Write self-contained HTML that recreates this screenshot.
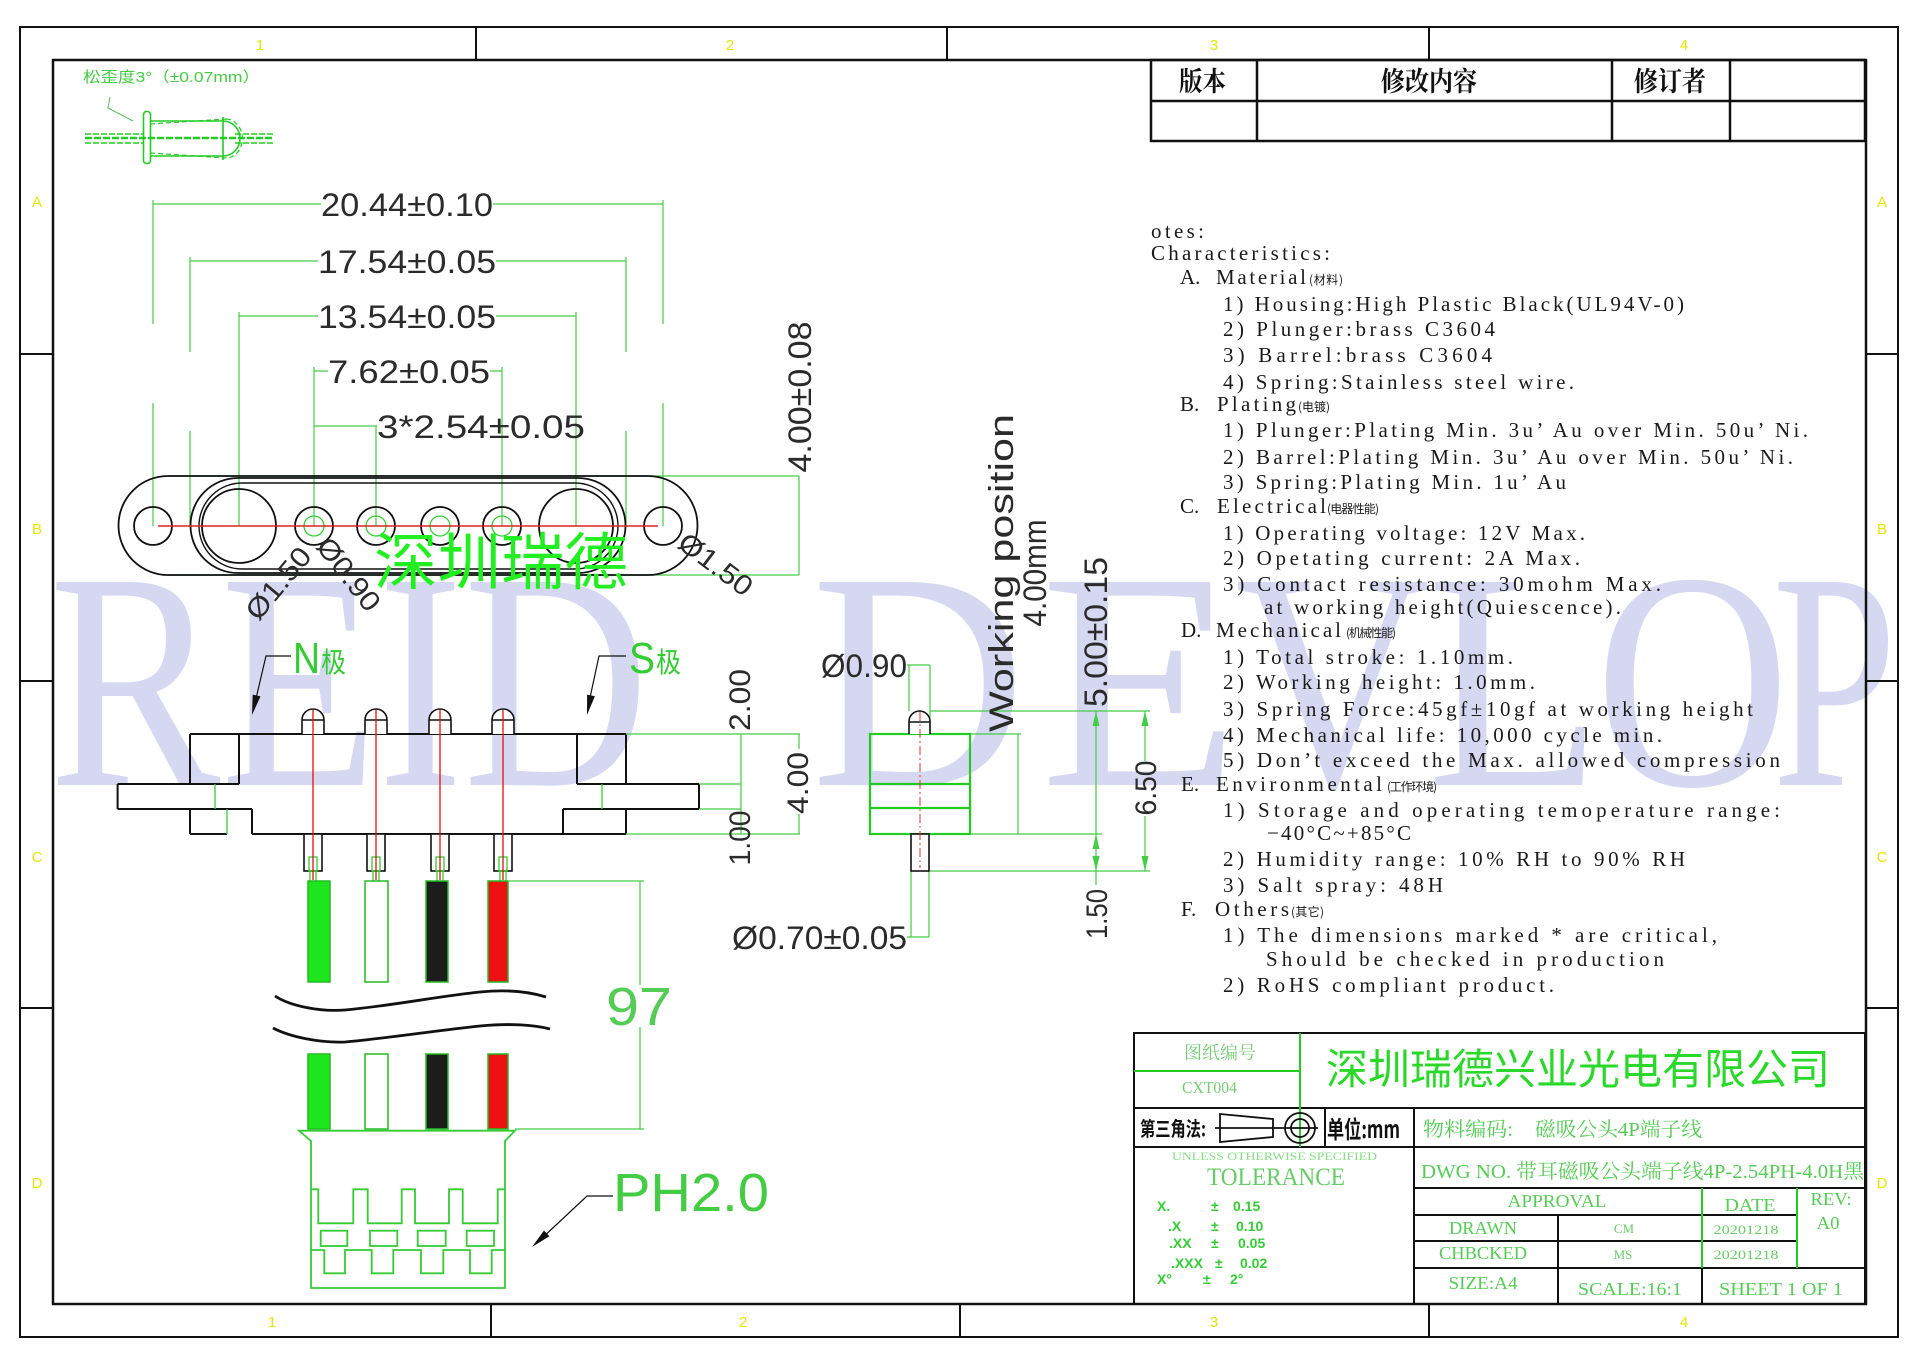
<!DOCTYPE html>
<html><head><meta charset="utf-8"><style>html,body{margin:0;padding:0;background:#fff}svg{display:block}</style></head>
<body>
<svg xmlns="http://www.w3.org/2000/svg" width="1920" height="1357" viewBox="0 0 1920 1357">
<rect width="1920" height="1357" fill="#fff"/>

<!-- watermark -->
<g font-family="Liberation Serif, serif" font-size="310" fill="#d6d8f1">
<text x="49" y="785" textLength="600" lengthAdjust="spacingAndGlyphs">REID</text>
<text x="811" y="785" textLength="215" lengthAdjust="spacingAndGlyphs">D</text>
<text x="1040" y="785" textLength="200" lengthAdjust="spacingAndGlyphs">E</text>
<text x="1235" y="785" textLength="195" lengthAdjust="spacingAndGlyphs">V</text>
<text x="1427" y="785" textLength="175" lengthAdjust="spacingAndGlyphs">L</text>
<text x="1595" y="785" textLength="195" lengthAdjust="spacingAndGlyphs">O</text>
<text x="1772" y="785" textLength="125" lengthAdjust="spacingAndGlyphs">P</text>
</g>

<!-- frame -->
<g stroke="#111" fill="none" stroke-width="2">
<rect x="20" y="27" width="1878" height="1310"/>
<rect x="53" y="60" width="1813" height="1244" stroke-width="2.5"/>
<path d="M476,27V60M947,27V60M1429,27V60M491,1304V1337M960,1304V1337M1429,1304V1337M20,354H53M20,681H53M20,1008H53M1866,354H1898M1866,681H1898M1866,1008H1898"/>
</g>
<g font-family="Liberation Sans, sans-serif" font-size="15" fill="#e6e600" text-anchor="middle">
<text x="260" y="50">1</text><text x="730" y="50">2</text><text x="1214" y="50">3</text><text x="1684" y="50">4</text>
<text x="272" y="1327">1</text><text x="743" y="1327">2</text><text x="1214" y="1327">3</text><text x="1684" y="1327">4</text>
<text x="37" y="207">A</text><text x="37" y="534">B</text><text x="37" y="862">C</text><text x="37" y="1188">D</text>
<text x="1882" y="207">A</text><text x="1882" y="534">B</text><text x="1882" y="862">C</text><text x="1882" y="1188">D</text>
</g>

<!-- revision table -->
<g stroke="#111" fill="none" stroke-width="2.5">
<rect x="1151" y="60" width="714" height="81"/>
<path d="M1151,101H1865M1257,60V141M1612,60V141M1730,60V141"/>
</g>
<g font-family="Noto Serif CJK SC, Noto Sans CJK SC, serif" font-size="27" font-weight="bold" fill="#111">
<text x="1179" y="91" textLength="47" lengthAdjust="spacingAndGlyphs">版本</text>
<text x="1381" y="91" textLength="96" lengthAdjust="spacingAndGlyphs">修改内容</text>
<text x="1634" y="91" textLength="72" lengthAdjust="spacingAndGlyphs">修订者</text>
</g>

<!-- top-left pin sketch -->
<text x="83" y="82" font-family="Liberation Sans, Noto Sans CJK SC, sans-serif" font-size="15" fill="#44cc44" textLength="177" lengthAdjust="spacingAndGlyphs">松歪度3°（±0.07mm）</text>
<g stroke="#22cc22" fill="none" stroke-width="1.6">
<polyline points="110,97 108,108 133,121" stroke="#55bb55" stroke-width="1"/>
<rect x="143.5" y="111.5" width="7" height="52" rx="3"/>
<path d="M150,121H223M150,156H223M223,117V160M223,121A17,17.5 0 0 1 223,156"/>
<path d="M150,124L226,119M150,153L226,158M226,119A16,19 0 0 1 226,158" stroke-dasharray="5,3" stroke-width="1.2"/>
<path d="M85,138H273" stroke-dasharray="7,2" stroke-width="2.5"/>
<path d="M85,134H143M85,143H143M235,134H273M235,143H273" stroke-dasharray="6,2" stroke-width="1.6"/>
</g>

<!-- top dims green -->
<g stroke="#44cc44" stroke-width="1.2" fill="none">
<path d="M153,204H321M493,204H663M153,200V324M153,403V526M663,200V324M663,403V526"/>
<path d="M190,261H318M496,261H626M190,257V352M190,431V526M626,257V352M626,431V526"/>
<path d="M239,316H318M496,316H576M239,312V526M576,312V526"/>
<path d="M314,371H328M490,371H502M314,367V526M502,367V526"/>
<path d="M314,426H377M376,426V526"/>
<path d="M168,476H799M168,575H799M799,476V575"/>
</g>
<g font-family="Liberation Sans, sans-serif" font-size="32" fill="#2b2b2b">
<text x="321" y="216" textLength="172" lengthAdjust="spacingAndGlyphs">20.44±0.10</text>
<text x="318" y="273" textLength="178" lengthAdjust="spacingAndGlyphs">17.54±0.05</text>
<text x="318" y="328" textLength="178" lengthAdjust="spacingAndGlyphs">13.54±0.05</text>
<text x="328" y="383" textLength="162" lengthAdjust="spacingAndGlyphs">7.62±0.05</text>
<text x="377" y="438" textLength="208" lengthAdjust="spacingAndGlyphs">3*2.54±0.05</text>
<text transform="translate(811,397) rotate(-90)" text-anchor="middle" textLength="151" lengthAdjust="spacingAndGlyphs">4.00±0.08</text>
</g>

<!-- top view part -->
<g stroke="#111" stroke-width="1.8" fill="none">
<path d="M168,476H648A49.5,49.5 0 0 1 648,575H168A49.5,49.5 0 0 1 168,476Z"/>
<path d="M238,478H578A47.5,47.5 0 0 1 578,573H238A47.5,47.5 0 0 1 238,478Z"/>
<path d="M242,483H575A43,43 0 0 1 575,569H242A43,43 0 0 1 242,483Z" stroke-width="1.4"/>
<circle cx="153" cy="526" r="19"/><circle cx="663" cy="526" r="19"/>
<circle cx="239" cy="526" r="37"/><circle cx="576" cy="526" r="37"/>
<circle cx="314" cy="526" r="19"/><circle cx="376" cy="526" r="19"/><circle cx="440" cy="526" r="19"/><circle cx="502" cy="526" r="19"/>
</g>
<g stroke="#33cc33" stroke-width="1.3" fill="none">
<circle cx="314" cy="526" r="10"/><circle cx="376" cy="526" r="10"/><circle cx="440" cy="526" r="10"/><circle cx="502" cy="526" r="10"/>
</g>
<path d="M158,526H658" stroke="#dd2222" stroke-width="1.6"/>
<text x="374" y="584" font-family="Noto Sans CJK SC, sans-serif" font-size="62" fill="#22ee22" textLength="254" lengthAdjust="spacingAndGlyphs">深圳瑞德</text>
<g font-family="Liberation Sans, DejaVu Sans, sans-serif" font-size="28" fill="#2b2b2b" text-anchor="middle">
<text transform="translate(278,583) rotate(-50)" y="10" textLength="85" lengthAdjust="spacingAndGlyphs">Ø1.50</text>
<text transform="translate(349,574) rotate(52)" y="10" textLength="85" lengthAdjust="spacingAndGlyphs">Ø0.90</text>
<text transform="translate(716,564) rotate(37)" y="10" textLength="85" lengthAdjust="spacingAndGlyphs">Ø1.50</text>
</g>

<!-- front view -->
<g font-family="Liberation Sans, sans-serif" font-size="44" fill="#33cc33">
<text x="293" y="673" textLength="27" lengthAdjust="spacingAndGlyphs">N</text>
<text x="629" y="673" textLength="26" lengthAdjust="spacingAndGlyphs">S</text>
</g>
<g font-family="Noto Sans CJK SC, sans-serif" font-size="28" fill="#33cc33">
<text x="321" y="672" textLength="25" lengthAdjust="spacingAndGlyphs">极</text>
<text x="656" y="672" textLength="25" lengthAdjust="spacingAndGlyphs">极</text>
</g>
<g stroke="#111" stroke-width="1.2" fill="none">
<polyline points="291,656 266,656 254,707"/>
<polyline points="626,656 599,656 588,707"/>
<polyline points="613,1196 587,1196 540,1240"/>
</g>
<g fill="#111">
<polygon points="252,715 260.5,696.4 252.7,694.6"/>
<polygon points="587,715 594.9,696.2 587.1,694.6"/>
<polygon points="532,1247 549.4,1236.3 544,1230.5"/>
</g>

<g stroke="#111" stroke-width="2" fill="none">
<path d="M190,734H626M190,734V784M239,734V784M117.6,784H239M117.6,784V809M117.6,809H252M190,809V834M252,809V834M190,834H227M252,834H626"/>
<path d="M577,734V784M626,734V784M577,784H699M699,784V809M563,809H699M563,809V834M626,809V834"/>
</g>
<g stroke="#33cc33" stroke-width="1.3" fill="none">
<path d="M215,784V809M227,809V834M602,784V809"/>
</g>
<!-- pins -->
<g stroke="#111" stroke-width="1.6" fill="#fff">
<path d="M302,734V720A11,11 0 0 1 324,720V734M302,720H324"/>
<path d="M365,734V720A11,11 0 0 1 387,720V734M365,720H387"/>
<path d="M429,734V720A11,11 0 0 1 451,720V734M429,720H451"/>
<path d="M492,734V720A11,11 0 0 1 514,720V734M492,720H514"/>
<rect x="304" y="834" width="18" height="37"/>
<rect x="367" y="834" width="18" height="37"/>
<rect x="431" y="834" width="18" height="37"/>
<rect x="494" y="834" width="18" height="37"/>
</g>
<g stroke="#33cc33" stroke-width="1.3" fill="none">
<rect x="309" y="857" width="8" height="14"/><rect x="372" y="857" width="8" height="14"/><rect x="436" y="857" width="8" height="14"/><rect x="499" y="857" width="8" height="14"/>
<path d="M310,871V881M316,871V881M373,871V881M379,871V881M437,871V881M443,871V881M500,871V881M506,871V881"/>
</g>
<g stroke="#e01010" stroke-width="1.3">
<path d="M313,710V880M376,710V880M440,710V880M503,710V880"/>
</g>
<!-- wires -->
<g stroke="#22bb22" stroke-width="1.5">
<rect x="308" y="881" width="22" height="101" fill="#1ee61e"/>
<rect x="365" y="881" width="23" height="101" fill="#fff"/>
<rect x="426" y="881" width="22" height="101" fill="#1c1c1c"/>
<rect x="488" y="881" width="20" height="101" fill="#ee1111"/>
<rect x="308" y="1054" width="22" height="75" fill="#1ee61e"/>
<rect x="365" y="1054" width="23" height="75" fill="#fff"/>
<rect x="426" y="1054" width="22" height="75" fill="#1c1c1c"/>
<rect x="488" y="1054" width="20" height="75" fill="#ee1111"/>
</g>
<g stroke="#111" stroke-width="2.8" fill="none">
<path d="M275,996C290,1006 320,1012 345,1010C390,1006 440,996 480,992C510,989 530,992 546,997"/>
<path d="M273,1028C290,1037 320,1043 345,1042C390,1038 440,1030 480,1026C510,1023 535,1025 550,1029"/>
</g>
<!-- 97 dim -->
<g stroke="#44cc44" stroke-width="1.2" fill="none">
<path d="M509,881H644M515,1129H644M640,881V985M640,1027V1129"/>
</g>
<text x="606" y="1025" font-family="Liberation Sans, sans-serif" font-size="54" fill="#55cc55" textLength="66" lengthAdjust="spacingAndGlyphs">97</text>
<!-- PH2.0 housing -->
<g stroke="#33cc33" stroke-width="1.8" fill="none">
<path d="M299,1130.7H515L505,1141V1288H311V1141Z"/>
<path d="M311,1189.3H318.3V1223.3H353.3V1189.3H367.7V1223.3H401.7V1189.3H415V1223.3H449V1189.3H462.7V1223.3H497.7V1189.3H505"/>
<rect x="320.7" y="1230.7" width="26.6" height="15.3"/><rect x="370" y="1230.7" width="27.3" height="15.3"/><rect x="417.7" y="1230.7" width="28" height="15.3"/><rect x="466.7" y="1230.7" width="27.3" height="15.3"/>
<path d="M311,1250H324.3V1273.3H345V1250H371.7V1273.3H393.3V1250H421V1273.3H443.3V1250H470V1273.3H491.7V1250H505"/>
</g>
<text x="613" y="1211" font-family="Liberation Sans, sans-serif" font-size="54" fill="#44cc44" textLength="156" lengthAdjust="spacingAndGlyphs">PH2.0</text>

<!-- front view right dims -->
<g stroke="#44cc44" stroke-width="1.2" fill="none">
<path d="M626,734H800M699,784H741M699,809H741M626,834H800M741,734V834M799,734V749M799,814V834"/>
</g>
<g font-family="Liberation Sans, sans-serif" font-size="30" fill="#2b2b2b" text-anchor="middle">
<text transform="translate(750,700) rotate(-90)" textLength="62" lengthAdjust="spacingAndGlyphs">2.00</text>
<text transform="translate(808,783) rotate(-90)" textLength="62" lengthAdjust="spacingAndGlyphs">4.00</text>
<text transform="translate(750,838) rotate(-90)" textLength="55" lengthAdjust="spacingAndGlyphs">1.00</text>
</g>

<!-- side view -->
<g stroke="#44cc44" stroke-width="1.2" fill="none">
<path d="M907,665H930M909,665V711M930,665V734"/>
<path d="M911,871V937M929,871V937M907,937H929"/>
<path d="M930,711H1150M970,734H1021M970,834H1102M930,871H1150M1018,734V834"/>
<path d="M1096,711V885M1145,711V761M1145,816V871"/>
</g>
<g fill="#44cc44">
<polygon points="1096,711 1092.5,726 1099.5,726"/>
<polygon points="1096,834 1092.5,849 1099.5,849"/>
<polygon points="1096,871 1092.5,856 1099.5,856"/>
<polygon points="1145,711 1141.5,726 1148.5,726"/>
<polygon points="1145,871 1141.5,856 1148.5,856"/>
</g>
<rect x="870" y="734" width="100" height="100" fill="none" stroke="#22cc22" stroke-width="2.2"/>
<path d="M870,784H970M870,808H970" stroke="#22cc22" stroke-width="2.2"/>
<g stroke="#111" stroke-width="1.6" fill="#fff">
<path d="M909,734V721.5A10.5,10.5 0 0 1 930,721.5V734M909,722H930"/>
<rect x="911" y="834" width="18" height="37"/>
</g>
<path d="M920,712V868" stroke="#dd3333" stroke-width="1" stroke-dasharray="9,3,2,3"/>
<g font-family="Liberation Sans, DejaVu Sans, sans-serif" font-size="32" fill="#2b2b2b">
<text x="821" y="677" textLength="86" lengthAdjust="spacingAndGlyphs">Ø0.90</text>
<text x="732" y="949" textLength="175" lengthAdjust="spacingAndGlyphs">Ø0.70±0.05</text>
</g>
<g font-family="Liberation Sans, sans-serif" fill="#2b2b2b" text-anchor="middle">
<text transform="translate(1013,573) rotate(-90)" font-size="34" textLength="318" lengthAdjust="spacingAndGlyphs">Working position</text>
<text transform="translate(1046,573) rotate(-90)" font-size="32" textLength="107" lengthAdjust="spacingAndGlyphs">4.00mm</text>
<text transform="translate(1107,632) rotate(-90)" font-size="32" textLength="150" lengthAdjust="spacingAndGlyphs">5.00±0.15</text>
<text transform="translate(1107,914) rotate(-90)" font-size="30" textLength="50" lengthAdjust="spacingAndGlyphs">1.50</text>
<text transform="translate(1156,788) rotate(-90)" font-size="30" textLength="55" lengthAdjust="spacingAndGlyphs">6.50</text>
</g>

<!-- notes -->
<g font-family="Liberation Serif, serif" font-size="21" fill="#1a1a1a" lengthAdjust="spacing">
<text x="1151" y="238" textLength="53">otes:</text>
<text x="1151" y="260" textLength="179">Characteristics:</text>
<text x="1180" y="284">A.</text><text x="1216" y="284" textLength="90">Material</text>
<text x="1223" y="311" textLength="461">1)  Housing:High  Plastic  Black(UL94V-0)</text>
<text x="1223" y="336" textLength="272">2)  Plunger:brass  C3604</text>
<text x="1223" y="362" textLength="269">3)  Barrel:brass   C3604</text>
<text x="1223" y="389" textLength="351">4)  Spring:Stainless  steel  wire.</text>
<text x="1180" y="411">B.</text><text x="1217" y="411" textLength="79">Plating</text>
<text x="1223" y="437" textLength="585">1)  Plunger:Plating  Min.  3u’  Au  over  Min.  50u’  Ni.</text>
<text x="1223" y="464" textLength="570">2)  Barrel:Plating  Min.  3u’  Au  over  Min.  50u’  Ni.</text>
<text x="1223" y="489" textLength="343">3)  Spring:Plating  Min.  1u’  Au</text>
<text x="1180" y="513">C.</text><text x="1217" y="513" textLength="109">Electrical</text>
<text x="1223" y="540" textLength="362">1)  Operating  voltage:  12V  Max.</text>
<text x="1223" y="565" textLength="357">2)  Opetating  current:  2A  Max.</text>
<text x="1223" y="591" textLength="438">3)  Contact  resistance:  30mohm  Max.</text>
<text x="1264" y="614" textLength="357">at  working  height(Quiescence).</text>
<text x="1181" y="637">D.</text><text x="1216" y="637" textLength="125">Mechanical</text>
<text x="1223" y="664" textLength="290">1)  Total  stroke:  1.10mm.</text>
<text x="1223" y="689" textLength="312">2)  Working  height:  1.0mm.</text>
<text x="1223" y="716" textLength="530">3)  Spring  Force:45gf±10gf  at  working  height</text>
<text x="1223" y="742" textLength="439">4)  Mechanical  life:  10,000  cycle  min.</text>
<text x="1223" y="767" textLength="557">5)  Don’t  exceed  the  Max.  allowed  compression</text>
<text x="1181" y="791">E.</text><text x="1216" y="791" textLength="166">Environmental</text>
<text x="1223" y="817" textLength="557">1)  Storage  and  operating  temoperature  range:</text>
<text x="1267" y="840" textLength="144">−40°C~+85°C</text>
<text x="1223" y="866" textLength="462">2)  Humidity  range:  10%  RH  to  90%  RH</text>
<text x="1223" y="892" textLength="220">3)  Salt  spray:  48H</text>
<text x="1181" y="916">F.</text><text x="1215" y="916" textLength="74">Others</text>
<text x="1223" y="942" textLength="494">1)  The  dimensions  marked  *  are  critical,</text>
<text x="1266" y="966" textLength="398">Should  be  checked  in  production</text>
<text x="1223" y="992" textLength="331">2)  RoHS  compliant  product.</text>
</g>
<g font-family="Noto Sans CJK SC, sans-serif" font-size="12" fill="#1a1a1a" lengthAdjust="spacingAndGlyphs">
<text x="1309" y="284" textLength="34">(材料)</text>
<text x="1298" y="411" textLength="32">(电镀)</text>
<text x="1327" y="513" textLength="52">(电器性能)</text>
<text x="1346" y="637" textLength="50">(机械性能)</text>
<text x="1387" y="791" textLength="50">(工作环境)</text>
<text x="1291" y="916" textLength="33">(其它)</text>
</g>

<!-- title block -->
<g stroke="#111" stroke-width="2" fill="none">
<rect x="1134" y="1033" width="731" height="271"/>
<path d="M1134,1108H1865M1134,1147H1865M1414,1188H1865M1414,1215H1797M1414,1241H1797M1414,1268H1865M1325,1108V1147M1414,1108V1304M1558,1215V1304M1702,1268V1304"/>
</g>
<g stroke="#22cc22" stroke-width="2" fill="none">
<path d="M1300,1033V1147M1134,1071H1300M1702,1188V1268M1797,1188V1268"/>
</g>
<g stroke="#111" stroke-width="1.8" fill="none">
<polygon points="1220,1114 1273,1119 1273,1137 1220,1142"/>
<path d="M1215,1128H1318"/>
<circle cx="1300" cy="1128" r="15"/><circle cx="1300" cy="1128" r="9"/>
</g>
<g font-family="Noto Sans CJK SC, sans-serif" font-weight="bold" fill="#111">
<text x="1140" y="1136" font-size="20" textLength="66" lengthAdjust="spacingAndGlyphs">第三角法:</text>
<text x="1327" y="1138" font-size="24" textLength="73" lengthAdjust="spacingAndGlyphs">单位:mm</text>
</g>
<g font-family="Liberation Serif, Noto Serif CJK SC, serif" fill="#77cc77">
<text x="1184" y="1059" font-size="18" textLength="72" lengthAdjust="spacingAndGlyphs">图纸编号</text>
<text x="1182" y="1093" font-size="17" textLength="55" lengthAdjust="spacingAndGlyphs">CXT004</text>
</g>
<text x="1326" y="1084" font-family="Noto Sans CJK SC, sans-serif" font-size="42" fill="#2ad82a" textLength="504" lengthAdjust="spacingAndGlyphs">深圳瑞德兴业光电有限公司</text>
<g font-family="Liberation Serif, Noto Serif CJK SC, serif" font-size="20" fill="#55cc55">
<text x="1423" y="1136" textLength="90" lengthAdjust="spacingAndGlyphs">物料编码:</text>
<text x="1535" y="1136" textLength="167" lengthAdjust="spacingAndGlyphs">磁吸公头4P端子线</text>
<text x="1421" y="1178" textLength="443" lengthAdjust="spacingAndGlyphs">DWG NO. 带耳磁吸公头端子线4P-2.54PH-4.0H黑</text>
</g>
<g font-family="Liberation Serif, serif" fill="#66cc66">
<text x="1172" y="1160" font-size="12" fill="#88dd88" textLength="205" lengthAdjust="spacingAndGlyphs">UNLESS OTHERWISE SPECIFIED</text>
<text x="1207" y="1185" font-size="25" textLength="138" lengthAdjust="spacingAndGlyphs">TOLERANCE</text>
</g>
<g font-family="Liberation Sans, sans-serif" font-size="14" font-weight="bold" fill="#33cc33">
<text x="1157" y="1211">X.</text><text x="1211" y="1211">±</text><text x="1233" y="1211">0.15</text>
<text x="1168" y="1231">.X</text><text x="1211" y="1231">±</text><text x="1236" y="1231">0.10</text>
<text x="1169" y="1248">.XX</text><text x="1211" y="1248">±</text><text x="1238" y="1248">0.05</text>
<text x="1171" y="1268">.XXX</text><text x="1215" y="1268">±</text><text x="1240" y="1268">0.02</text>
<text x="1157" y="1284">X°</text><text x="1203" y="1284">±</text><text x="1230" y="1284">2°</text>
</g>
<g font-family="Liberation Serif, serif" font-size="18" fill="#55cc55" text-anchor="middle">
<text x="1557" y="1207" textLength="99" lengthAdjust="spacingAndGlyphs">APPROVAL</text>
<text x="1750" y="1211" textLength="51" lengthAdjust="spacingAndGlyphs">DATE</text>
<text x="1831" y="1205" textLength="41" lengthAdjust="spacingAndGlyphs">REV:</text>
<text x="1828" y="1229" textLength="23" lengthAdjust="spacingAndGlyphs">A0</text>
<text x="1483" y="1234" textLength="68" lengthAdjust="spacingAndGlyphs">DRAWN</text>
<text x="1483" y="1259" textLength="88" lengthAdjust="spacingAndGlyphs">CHBCKED</text>
<text x="1483" y="1289" textLength="69" lengthAdjust="spacingAndGlyphs">SIZE:A4</text>
<text x="1630" y="1295" textLength="104" lengthAdjust="spacingAndGlyphs">SCALE:16:1</text>
<text x="1781" y="1295" textLength="124" lengthAdjust="spacingAndGlyphs">SHEET 1 OF 1</text>
</g>
<g font-family="Liberation Serif, serif" font-size="13" fill="#66cc66" text-anchor="middle">
<text x="1624" y="1233">CM</text>
<text x="1746" y="1234" textLength="65" lengthAdjust="spacingAndGlyphs">20201218</text>
<text x="1623" y="1259">MS</text>
<text x="1746" y="1259" textLength="65" lengthAdjust="spacingAndGlyphs">20201218</text>
</g>
</svg>
</body></html>
